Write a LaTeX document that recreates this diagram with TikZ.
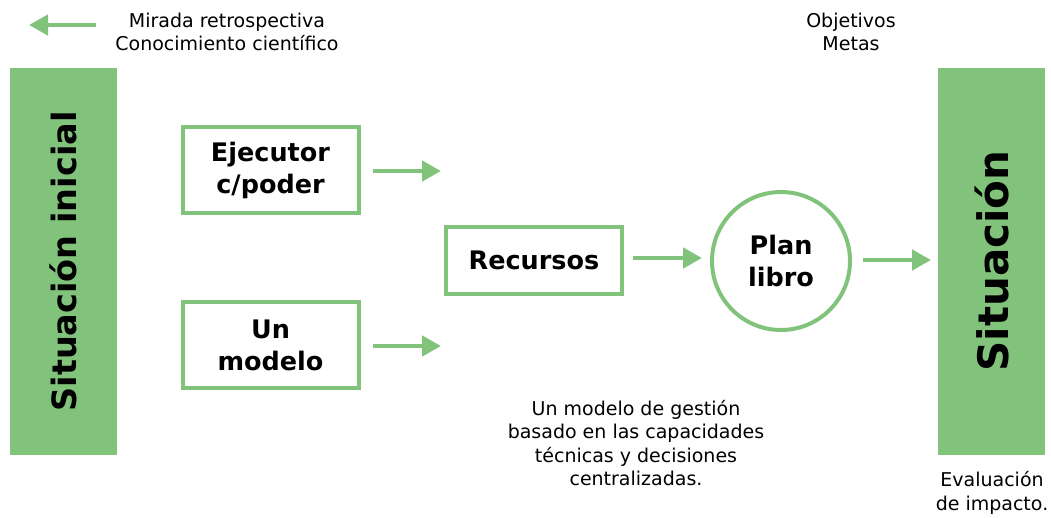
\documentclass[tikz,border=0pt]{standalone}
\usepackage{fontspec}
\setmainfont{DejaVu Sans}
\usetikzlibrary{arrows.meta}
\definecolor{vgreen}{RGB}{130,195,124}
\begin{document}
\begin{tikzpicture}[x=1pt,y=-1pt,
  bar/.style={fill=vgreen,draw=none,minimum width=107pt,minimum height=387pt,inner sep=0pt},
  bigtxt/.style={font=\fontsize{33.5}{38}\selectfont\bfseries,rotate=90},
  boxnode/.style={draw=vgreen,line width=4pt,fill=white,minimum width=176pt,inner sep=0pt,align=center,font=\fontsize{25.5}{32}\selectfont\bfseries},
  plain/.style={align=center,font=\fontsize{19}{23.3}\selectfont,inner sep=0pt},
  garrow/.style={draw=vgreen,line width=4.5pt,-{Triangle[length=19pt,width=20pt]}}
]
\useasboundingbox (0,0) rectangle (1051,518);
\node[bar] (left) at (63.5,261.5) {};
\node[bigtxt] (lefttxt) at (left.center) {Situación inicial};
\node[bar] (right) at (991,261.5) {};
\node[bigtxt,font=\fontsize{42}{46}\selectfont\bfseries] (righttxt) at (992,261) {Situación};

\node[boxnode,minimum height=86pt] (ejec) at (270.5,170) {Ejecutor\\c/poder};
\node[boxnode,minimum height=86pt] (model) at (270.5,345) {Un\\modelo};
\node[boxnode,minimum height=67pt] (rec) at (534,260.5) {Recursos};
\node[circle,draw=vgreen,line width=4pt,minimum size=138pt,inner sep=0pt,align=center,font=\fontsize{25.5}{32}\selectfont\bfseries] (plan) at (781,261) {Plan\\libro};

\node[plain] (mirada) at (227,32) {Mirada retrospectiva\\Conocimiento científico};
\node[plain] (obj) at (851,32) {Objetivos\\Metas};
\node[plain] (desc) at (636,443) {Un modelo de gestión\\basado en las capacidades\\técnicas y decisiones\\centralizadas.};
\node[plain] (eval) at (992,493) {Evaluación\\de impacto.};

\coordinate (m1) at (96,25);
\coordinate (m2) at (29,25);
\coordinate (e1) at (373,171);
\coordinate (e2) at (441,171);
\coordinate (u1) at (373,346);
\coordinate (u2) at (441,346);
\coordinate (r1) at (633,258);
\coordinate (r2) at (702,258);
\coordinate (p1) at (863,260);
\coordinate (p2) at (931,260);
\draw[garrow] (m1) -- (m2);
\draw[garrow] (e1) -- (e2);
\draw[garrow] (u1) -- (u2);
\draw[garrow] (r1) -- (r2);
\draw[garrow] (p1) -- (p2);
\end{tikzpicture}
\end{document}
